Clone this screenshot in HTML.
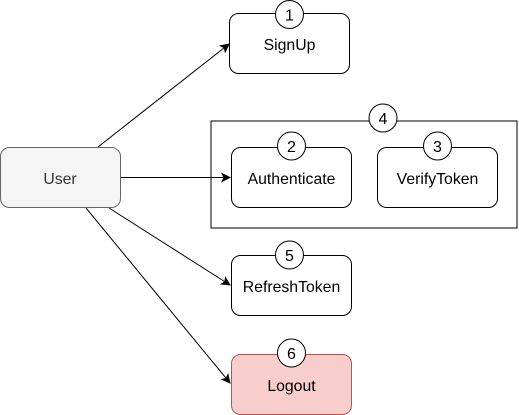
<!DOCTYPE html>
<html><head><style>body{margin:0;background:#fff}svg{display:block}</style></head>
<body>
<svg width="519" height="415" xmlns="http://www.w3.org/2000/svg" font-family="Liberation Sans, Arial, sans-serif" font-size="15.8">
<defs><marker id="a" markerWidth="10" markerHeight="10" refX="9" refY="5" orient="auto" markerUnits="userSpaceOnUse"><path d="M0,0 L10,5 L0,10 L2.5,5 Z" fill="#000"/></marker></defs>
<rect x="211" y="121" width="306" height="107" fill="#fff" stroke="#000"/>
<g stroke="#000" fill="none">
<line x1="98" y1="147" x2="229" y2="44" marker-end="url(#a)"/>
<line x1="120" y1="177.5" x2="230" y2="177.5" marker-end="url(#a)"/>
<line x1="109" y1="208" x2="230" y2="285" marker-end="url(#a)"/>
<line x1="86" y1="208" x2="230" y2="383" marker-end="url(#a)"/>
</g>
<rect x="0.5" y="147.5" width="120" height="60" rx="9" fill="#f5f5f5" stroke="#666"/>
<text x="60" y="184" text-anchor="middle" fill="#333">User</text>
<g fill="#fff" stroke="#000">
<rect x="229.5" y="13.5" width="120" height="60" rx="9"/>
<rect x="231.5" y="147.5" width="120" height="60" rx="9"/>
<rect x="377.5" y="147.5" width="120" height="60" rx="9"/>
<rect x="231.5" y="255.5" width="120" height="60" rx="9"/>
</g>
<rect x="231.5" y="354.5" width="120" height="60" rx="9" fill="#f8cecc" stroke="#b85450"/>
<g fill="#000" text-anchor="middle">
<text x="289.5" y="50">SignUp</text>
<text x="291.5" y="184">Authenticate</text>
<text x="437.5" y="184">VerifyToken</text>
<text x="291.5" y="292">RefreshToken</text>
<text x="291.5" y="391">Logout</text>
</g>
<g fill="#fff" stroke="#000">
<circle cx="289.5" cy="14.5" r="14"/>
<circle cx="383" cy="118" r="14"/>
<circle cx="291.5" cy="146" r="14"/>
<circle cx="437.5" cy="146" r="14"/>
<circle cx="289.5" cy="255" r="14"/>
<circle cx="291.5" cy="353" r="14"/>
</g>
<g fill="#000" text-anchor="middle" font-size="16">
<text x="289.5" y="20.5">1</text>
<text x="383" y="124">4</text>
<text x="291.5" y="152">2</text>
<text x="437.5" y="152">3</text>
<text x="289.5" y="261">5</text>
<text x="291.5" y="359">6</text>
</g>
</svg>
</body></html>
